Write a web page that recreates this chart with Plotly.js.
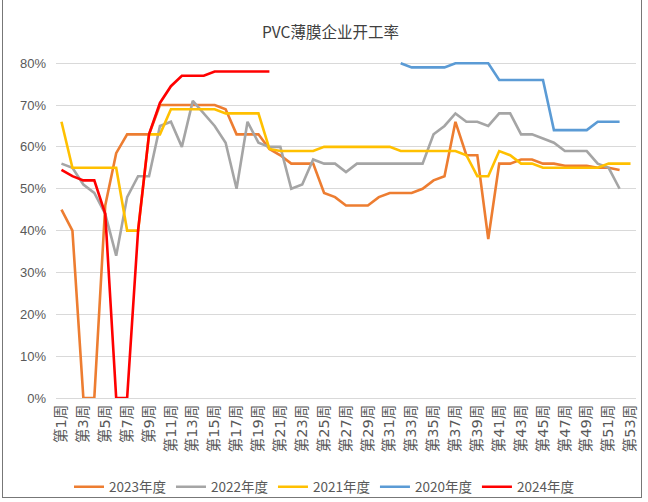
<!DOCTYPE html>
<html>
<head>
<meta charset="utf-8">
<script src="https://cdn.plot.ly/plotly-3.0.1.min.js"></script>
<style>
html,body{margin:0;padding:0;background:#fff;}
#chart{width:648px;height:502px;}
#frame{position:absolute;left:2px;top:-2px;width:638px;height:498px;border:1px solid #777;pointer-events:none;}
</style>
</head>
<body>
<div id="chart"></div>
<div id="frame"></div>
<script>
// categories: 第1周 ... 第53周
const weeks = [];
for (let i = 1; i <= 53; i++) weeks.push('第' + i + '周');

// series values (%)
const y2023 = [45,40,0,0,46,58.5,63,63,63,70,70,70,70,70,70,69,63,63,63,59.5,58,56,56,56,49,48,46,46,46,48,49,49,49,50,52,53,66,58,58,38,56,56,57,57,56,56,55.5,55.5,55.5,55,55,54.5];
const y2022 = [56,55,51,49,44,34,48,53,53,65,66,60,71,68,65,61,50,66,61,60,60,50,51,57,56,56,54,56,56,56,56,56,56,56,63,65,68,66,66,65,68,68,63,63,62,61,59,59,59,56,55,50];
const y2021 = [66,55,55,55,55,55,40,40,63,63,69,69,69,69,69,68,68,68,68,59.5,59,59,59,59,60,60,60,60,60,60,60,59,59,59,59,59,59,58,53,53,59,58,56,56,55,55,55,55,55,55,56,56,56];
const y2020 = [null,null,null,null,null,null,null,null,null,null,null,null,null,null,null,null,null,null,null,null,null,null,null,null,null,null,null,null,null,null,null,80,79,79,79,79,80,80,80,80,76,76,76,76,76,64,64,64,64,66,66,66];
const y2024 = [54.5,53,52,52,44,0,0,40,63,70.5,74.5,77,77,77,78,78,78,78,78,78];

const seriesNames = ['2023年度','2022年度','2021年度','2020年度','2024年度'];
const seriesData = [y2023, y2022, y2021, y2020, y2024];
const seriesColors = ['#ED7D31','#A5A5A5','#FFC000','#5B9BD5','#FF0000'];

const yTickVals = [0,10,20,30,40,50,60,70,80];
const tickWeeks = weeks.filter((w, i) => i % 2 === 0);

const traces = seriesData.map((vals, k) => ({
  type: 'scatter',
  mode: 'lines',
  name: seriesNames[k],
  x: weeks.slice(0, vals.length),
  y: vals.map(v => v === null ? null : v / 100),
  line: {color: seriesColors[k], width: 2.6},
  connectgaps: false,
  hoverinfo: 'skip'
}));

const layout = {
  width: 648, height: 502,
  paper_bgcolor: '#ffffff', plot_bgcolor: '#ffffff',
  margin: {l: 56, r: 12, t: 59, b: 104},
  title: {
    text: 'PVC薄膜企业开工率',
    font: {family: '"Noto Sans CJK SC", sans-serif', size: 15.5, color: '#404040'},
    x: 0.51, xref: 'container', xanchor: 'center',
    y: 0.935, yref: 'container', yanchor: 'middle'
  },
  xaxis: {
    type: 'category',
    categoryarray: weeks,
    range: [-0.5, 52.5],
    tickvals: tickWeeks,
    ticktext: tickWeeks,
    tickangle: -90,
    tickfont: {family: '"DejaVu Sans", "Noto Sans CJK SC", sans-serif', size: 14.5, color: '#595959'},
    showgrid: false,
    showline: true, linecolor: '#d9d9d9', linewidth: 1,
    ticks: '',
    zeroline: false,
    fixedrange: true
  },
  yaxis: {
    range: [0, 0.81],
    tickvals: yTickVals.map(v => v / 100),
    ticktext: yTickVals.map(v => v + '%'),
    tickfont: {family: '"Liberation Sans", Arial, sans-serif', size: 13, color: '#595959'},
    showgrid: true, gridcolor: '#d9d9d9', gridwidth: 1,
    zeroline: false, showline: false, ticks: '',
    ticklabelstandoff: 9,
    fixedrange: true
  },
  showlegend: true,
  legend: {
    orientation: 'h',
    x: 0.5, xanchor: 'center', xref: 'container',
    y: 0.03, yanchor: 'middle', yref: 'container',
    font: {family: '"Noto Sans CJK SC", sans-serif', size: 13.5, color: '#595959'},
    traceorder: 'normal',
    itemwidth: 30,
    tracegroupgap: 0
  }
};

Plotly.newPlot('chart', traces, layout, {displayModeBar: false, staticPlot: true});
</script>
</body>
</html>
